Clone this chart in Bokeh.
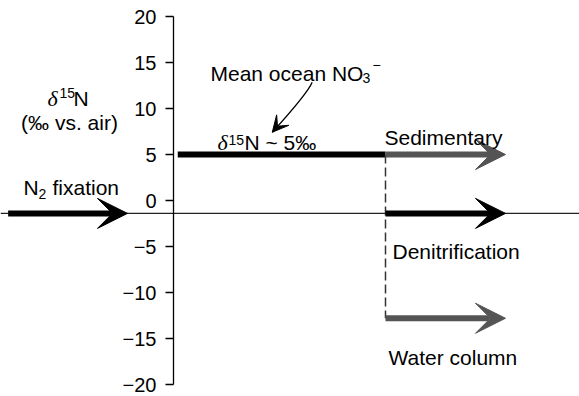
from bokeh.plotting import figure
from bokeh.models import (Range1d, LinearAxis, FixedTicker, Arrow, VeeHead, Label, Span)
from bokeh.embed import file_html
from bokeh.resources import INLINE

# ---------------- data ----------------
y_ticks = [-20, -15, -10, -5, 0, 5, 10, 15, 20]
y_tick_labels = ["\u221220", "\u221215", "\u221210", "\u22125", "0", "5", "10", "15", "20"]

mean_ocean_d15n = 5.0          # mean ocean nitrate d15N
baseline_d15n = -1.4           # horizontal reference line / N2 fixation input
water_column_d15n = -12.8      # water-column denitrification output

# schematic x positions (arbitrary units, y axis at 0)
ocean_x = [0.02, 1.0]
split_x = 1.0
arrow_names = ["N2 fixation", "Sedimentary", "Denitrification", "Water column"]
arrow_x0 = [-0.78, 1.0, 1.0, 1.0]
arrow_x1 = [-0.217, 1.566, 1.566, 1.566]
arrow_y = [baseline_d15n, mean_ocean_d15n, baseline_d15n, water_column_d15n]

BLACK = "#000000"
GRAY = "#545454"
arrow_colors = [BLACK, GRAY, BLACK, GRAY]

FONT = "Liberation Sans"
SERIF = "Liberation Serif"
FS = "21px"
SUB = "14px"

W, H = 579, 396
PXX, PXY = 212.0, 9.2      # pixels per x unit / per permil
AX_PX, ZERO_PY = 173, 200  # where x=0 and y=0 fall on the canvas

p = figure(width=W, height=H,
           x_range=Range1d(-AX_PX / PXX, (W - AX_PX) / PXX),
           y_range=Range1d((ZERO_PY - H) / PXY, ZERO_PY / PXY),
           x_axis_type=None, y_axis_type=None,
           toolbar_location=None, output_backend="svg", min_border=0,
           outline_line_color=None, background_fill_color="white",
           border_fill_color="white")

# y axis drawn at x = 0
yaxis = LinearAxis(fixed_location=0, bounds=(-20, 20),
                   ticker=FixedTicker(ticks=y_ticks),
                   major_label_overrides={t: l for t, l in zip(y_ticks, y_tick_labels)},
                   major_tick_out=8, major_tick_in=0,
                   minor_tick_out=0, minor_tick_in=0,
                   axis_line_width=1.3, axis_line_color=BLACK,
                   major_tick_line_width=1.3, major_tick_line_color=BLACK,
                   major_label_text_font=FONT, major_label_text_font_size="20px",
                   major_label_text_color=BLACK, major_label_standoff=9)
p.add_layout(yaxis, "left")

# baseline
p.add_layout(Span(location=baseline_d15n, dimension="width", line_color="#222222",
                  line_width=1.3, level="underlay"))

# mean ocean bar
p.segment(x0=[ocean_x[0]], y0=[mean_ocean_d15n], x1=[ocean_x[1]], y1=[mean_ocean_d15n],
          line_width=6, line_color=BLACK, line_cap="butt")

# dashed connector
p.segment(x0=[split_x], y0=[mean_ocean_d15n], x1=[split_x], y1=[water_column_d15n],
          line_width=1.5, line_color="#333333", line_dash="9 4")

# arrows
for x0, x1, y, c in zip(arrow_x0, arrow_x1, arrow_y, arrow_colors):
    p.add_layout(Arrow(x_start=x0, y_start=y, x_end=x1, y_end=y,
                       line_width=6, line_color=c, line_cap="butt",
                       end=VeeHead(size=30, fill_color=c, line_color=c, line_width=1)))

# leader curve for mean ocean annotation
p.quadratic(x0=[0.654], y0=[12.86], x1=[0.466], y1=[7.42], cx=[0.634], cy=[11.70],
            line_width=1.3, line_color=BLACK)
p.add_layout(Arrow(x_start=0.542, y_start=9.46, x_end=0.466, y_end=7.42,
                   line_alpha=0,
                   end=VeeHead(size=16, fill_color=BLACK, line_color=BLACK, line_width=1)))


def lab(x, y, text, font=FONT, size=FS, style="normal", align="left"):
    p.add_layout(Label(x=x, y=y, text=text, text_font=font, text_font_size=size,
                       text_font_style=style, text_align=align,
                       text_baseline="alphabetic", text_color=BLACK))


def xd(px):
    return (px - AX_PX) / PXX


def yd(py):
    return (ZERO_PY - py) / PXY


# axis title
lab(xd(47), yd(98), "\u03b4", font=SERIF, size="22px", style="italic")
lab(xd(59), yd(92), "15", size=SUB)
lab(xd(73), yd(98), "N")
lab(xd(69), yd(122), "(\u2030 vs. air)", align="center")

# N2 fixation
lab(xd(23), yd(187), "N")
lab(xd(38), yd(193), "2", size=SUB)
lab(xd(52), yd(187), "fixation")

# Mean ocean NO3-
lab(xd(210), yd(73), "Mean ocean NO")
lab(xd(362), yd(77), "3", size=SUB)
lab(xd(372), yd(64), "\u2212", size=SUB)

# delta15N ~ 5 permil
lab(xd(217), yd(142), "\u03b4", font=SERIF, size="22px", style="italic")
lab(xd(228), yd(139), "15", size=SUB)
lab(xd(244), yd(142), "N ~")
lab(xd(283), yd(142), "5\u2030")

# outputs
lab(xd(384), yd(137), "Sedimentary")
lab(xd(392), yd(251), "Denitrification")
lab(xd(388), yd(357), "Water column")

open("out.html", "w").write(file_html(p, INLINE))
